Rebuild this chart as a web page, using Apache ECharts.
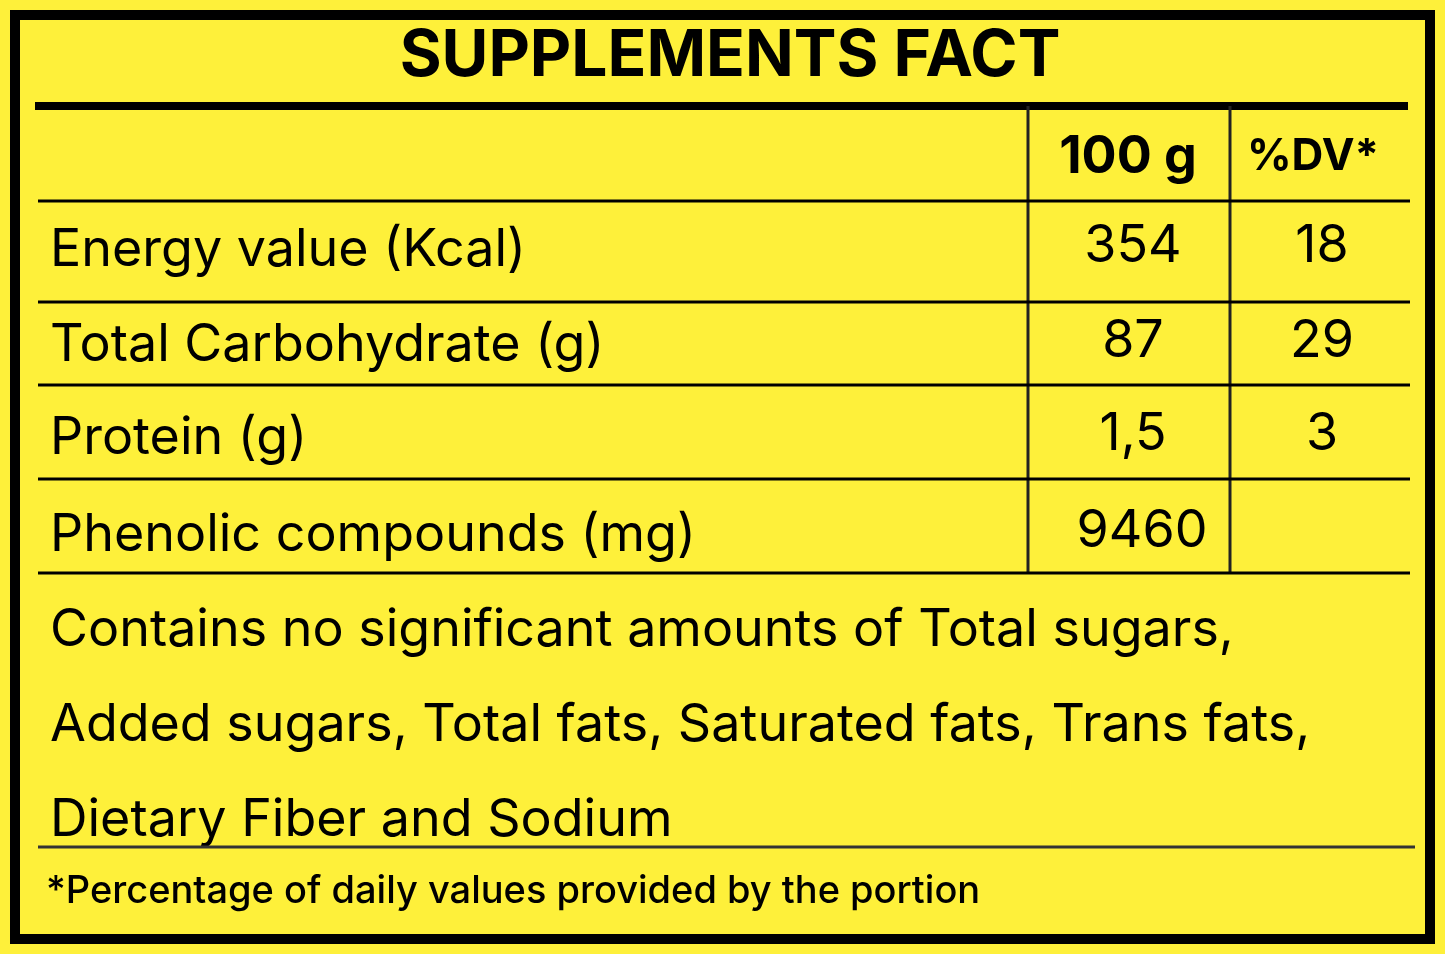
<!DOCTYPE html>
<html><head><meta charset="utf-8">
<script src="https://cdn.jsdelivr.net/npm/echarts@6/dist/echarts.min.js"></script>
<style>html,body{margin:0;padding:0;background:#fff}#c{width:1445px;height:954px}</style>
</head><body><div id="c"></div>
<script>
const title = "SUPPLEMENTS FACT";
const headers = ["100 g", "%DV*"];
const nutrients = ["Energy value (Kcal)", "Total Carbohydrate (g)", "Protein (g)", "Phenolic compounds (mg)"];
const per100g = ["354", "87", "1,5", "9460"];
const dailyValue = ["18", "29", "3", ""];
const noteLines = ["Contains no significant amounts of Total sugars,", "Added sugars, Total fats, Saturated fats, Trans fats,", "Dietary Fiber and Sodium"];
const footnote = "*Percentage of daily values provided by the portion";

const F = "Inter, 'Noto Sans', sans-serif";
const rowLines = [201, 302, 385, 479, 573];
const rowCenters = [250, 345, 438, 535];
const g = [];
g.push({type:'rect', shape:{x:0,y:0,width:1445,height:954}, style:{fill:'#fef03a'}});
g.push({type:'rect', shape:{x:15,y:15,width:1415,height:924}, style:{fill:'none',stroke:'#000',lineWidth:10}});
g.push({type:'text', x:730, y:57, style:{text:title, font:'bold 64px '+F, fill:'#000', align:'center', verticalAlign:'middle'}});
g.push({type:'line', shape:{x1:35,y1:106,x2:1408,y2:106}, style:{stroke:'#000',lineWidth:8}});
[1028,1230].forEach(x=>g.push({type:'line', shape:{x1:x,y1:106,x2:x,y2:573}, style:{stroke:'#222',lineWidth:3}}));
rowLines.forEach(y=>g.push({type:'line', shape:{x1:38,y1:y,x2:1410,y2:y}, style:{stroke:'#000',lineWidth:3}}));
g.push({type:'text', x:1128, y:157, style:{text:headers[0], font:'bold 52px '+F, fill:'#000', align:'center', verticalAlign:'middle'}});
g.push({type:'text', x:1313, y:157, style:{text:headers[1], font:'bold 44px '+F, fill:'#000', align:'center', verticalAlign:'middle'}});
nutrients.forEach((n,i)=>{
  const y=rowCenters[i];
  g.push({type:'text', x:50, y:y, style:{text:n, font:'52px '+F, fill:'#000', align:'left', verticalAlign:'middle'}});
  g.push({type:'text', x:i===3?1142:1133, y:y-4, style:{text:per100g[i], font:'52px '+F, fill:'#000', align:'center', verticalAlign:'middle'}});
  g.push({type:'text', x:1322, y:y-4, style:{text:dailyValue[i], font:'52px '+F, fill:'#000', align:'center', verticalAlign:'middle'}});
});
noteLines.forEach((t,i)=>g.push({type:'text', x:50, y:630+i*95, style:{text:t, font:'52px '+F, fill:'#000', align:'left', verticalAlign:'middle'}}));
g.push({type:'line', shape:{x1:38,y1:847,x2:1415,y2:847}, style:{stroke:'#333',lineWidth:3}});
g.push({type:'text', x:46, y:892, style:{text:footnote, font:'500 38px '+F, fill:'#000', align:'left', verticalAlign:'middle'}});

const chart = echarts.init(document.getElementById('c'));
chart.setOption({animation:false, graphic:{elements:g}});
</script></body></html>
